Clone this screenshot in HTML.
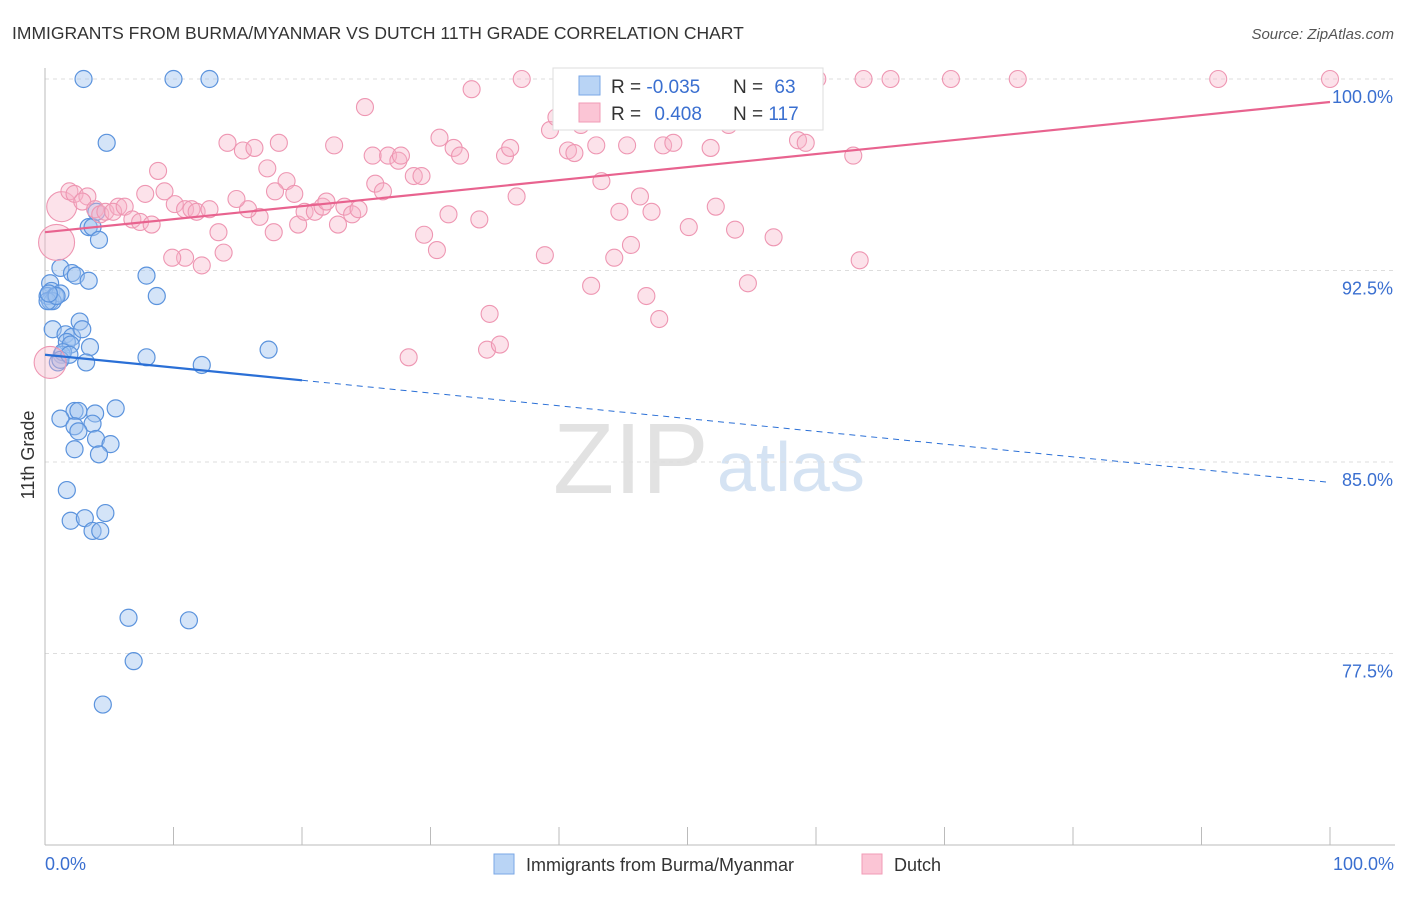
<!DOCTYPE html>
<html><head><meta charset="utf-8"><style>
body{margin:0;background:#fff;font-family:"Liberation Sans",sans-serif;}
svg text{font-family:"Liberation Sans",sans-serif;}
</style></head><body>
<svg id="chart" width="1406" height="892" viewBox="0 0 1406 892" xmlns="http://www.w3.org/2000/svg">
<text x="12" y="39" font-size="17.5" fill="#333">IMMIGRANTS FROM BURMA/MYANMAR VS DUTCH 11TH GRADE CORRELATION CHART</text>
<text x="1394" y="39" font-size="15" fill="#555" font-style="italic" text-anchor="end">Source: ZipAtlas.com</text>
<g>
<text x="553" y="493" font-size="100" fill="#e2e2e2" font-family="Liberation Serif">ZIP</text>
<text x="717" y="491" font-size="70" fill="#d5e3f3">atlas</text>
</g>
<g id="grid"></g>
<g id="axes"></g>
<g id="blue"></g>
<g id="pink"></g>
<g id="lines"></g>
<text x="34" y="455" font-size="18" fill="#333" text-anchor="middle" transform="rotate(-90 34 455)">11th Grade</text>
<text x="45" y="870" font-size="18" fill="#3a6fd0">0.0%</text>
<text x="1394" y="870" font-size="18" fill="#3a6fd0" text-anchor="end">100.0%</text>
<g>
<rect x="553" y="68" width="270" height="62" fill="#fff" stroke="#ddd"/>
<rect x="579" y="76" width="21" height="19" fill="#b9d4f5" stroke="#7aa7e6"/>
<rect x="579" y="103" width="21" height="19" fill="#fbc5d5" stroke="#f29bb6"/>
<text x="611" y="93" font-size="19" fill="#333">R = <tspan fill="#3a6fd0">-0.035</tspan></text>
<text x="733" y="93" font-size="19" fill="#333">N = <tspan fill="#3a6fd0" dx="6">63</tspan></text>
<text x="611" y="120" font-size="19" fill="#333">R = <tspan fill="#3a6fd0" dx="8">0.408</tspan></text>
<text x="733" y="120" font-size="19" fill="#333">N = <tspan fill="#3a6fd0">117</tspan></text>
</g>
<g>
<rect x="494" y="854" width="20" height="20" fill="#b9d4f5" stroke="#7aa7e6"/>
<text x="526" y="871" font-size="18" fill="#333">Immigrants from Burma/Myanmar</text>
<rect x="862" y="854" width="20" height="20" fill="#fbc5d5" stroke="#f29bb6"/>
<text x="894" y="871" font-size="18" fill="#333">Dutch</text>
</g>
</svg>
<script>
const yTicks=[100,92.5,85,77.5];
const yTickLabels=["100.0%","92.5%","85.0%","77.5%"];
const xTicks=[0,10,20,30,40,50,60,70,80,90,100];
const blueX=[3.0,10.0,12.8,4.8,3.4,3.7,4.2,1.2,2.1,2.4,3.4,7.9,8.7,0.4,0.5,0.2,0.4,0.8,1.2,0.6,0.2,0.6,1.6,2.1,2.7,2.9,1.7,3.5,2.0,1.3,1.0,3.2,7.9,12.2,17.4,5.5,2.3,2.6,3.9,1.2,2.3,3.7,2.6,3.972,5.1,2.3,4.2,1.7,2.0,3.1,4.7,3.7,4.3,6.5,11.2,6.9,4.5,0.9,0.3,1.4,1.2,4.0,1.9];
const blueY=[100,100,100,97.5,94.2,94.2,93.7,92.6,92.4,92.3,92.1,92.3,91.5,92.0,91.7,91.5,91.3,91.5,91.6,91.3,91.3,90.2,90.0,89.9,90.5,90.2,89.7,89.5,89.6,89.2,88.9,88.9,89.1,88.8,89.4,87.1,87.0,87.0,86.9,86.7,86.4,86.5,86.2,85.9,85.7,85.5,85.3,83.9,82.7,82.8,83.0,82.3,82.3,78.9,78.8,77.2,75.5,91.5,91.6,89.3,89.0,94.8,89.2];
const pinkX=[1.3,0.9,0.4,1.9,2.3,3.3,2.9,3.9,4.3,4.7,5.7,5.3,6.2,6.8,7.4,8.3,7.8,8.8,9.3,10.1,10.9,11.4,11.8,12.8,13.5,13.9,10.9,9.9,12.2,14.2,15.4,16.3,17.3,18.2,18.8,17.9,16.7,15.8,14.9,19.4,19.7,20.2,21.0,21.6,21.9,22.8,23.3,23.9,24.4,24.9,22.5,25.5,25.7,26.3,26.7,27.5,27.7,28.7,29.3,29.5,30.5,30.7,31.8,32.3,31.4,33.8,33.2,34.6,34.4,35.4,28.3,35.8,36.2,36.7,37.1,38.9,39.3,39.8,40.4,40.7,41.2,41.7,42.5,42.9,43.3,44.3,44.7,45.3,45.6,46.3,46.8,47.2,47.8,48.1,48.9,50.1,50.5,51.8,52.2,53.2,53.7,54.7,55.6,55.0,56.7,58.6,59.2,60.1,62.9,63.4,63.7,65.8,70.5,75.7,91.3,100,58.2,17.8];
const pinkY=[95.0,93.6,88.9,95.6,95.5,95.4,95.2,94.9,94.7,94.8,95.0,94.8,95.0,94.5,94.4,94.3,95.5,96.4,95.6,95.1,94.9,94.9,94.8,94.9,94.0,93.2,93.0,93.0,92.7,97.5,97.2,97.3,96.5,97.5,96.0,95.6,94.6,94.9,95.3,95.5,94.3,94.8,94.8,95.0,95.2,94.3,95.0,94.7,94.9,98.9,97.4,97.0,95.9,95.6,97.0,96.8,97.0,96.2,96.2,93.9,93.3,97.7,97.3,97.0,94.7,94.5,99.6,90.8,89.4,89.6,89.1,97.0,97.3,95.4,100,93.1,98.0,98.5,98.9,97.2,97.1,98.2,91.9,97.4,96.0,93.0,94.8,97.4,93.5,95.4,91.5,94.8,90.6,97.4,97.5,94.2,100,97.3,95.0,98.2,94.1,92.0,99.0,98.8,93.8,97.6,97.5,100,97.0,92.9,100,100,100,100,100,100,98.6,94.0];
const pinkBig=[0,1,2];
const pinkBigR=[15,18,16];
const blueTrend=[89.2,88.2];   // at 0% and 20%
const blueTrendEnd=84.2;       // at 100%
const pinkTrend=[94.0,99.1];   // at 0% and 100%

const NS="http://www.w3.org/2000/svg";
const X0=45,X1=1330,YTOP=79,PX_PER_PCT=191.5/7.5,BOTTOM=845;
const xs=v=>X0+(X1-X0)*v/100;
const ys=v=>YTOP+(100-v)*PX_PER_PCT;
function mk(tag,attrs,parent){const e=document.createElementNS(NS,tag);for(const k in attrs)e.setAttribute(k,attrs[k]);parent.appendChild(e);return e;}
const grid=document.getElementById('grid'),axes=document.getElementById('axes');
yTicks.forEach((t,i)=>{
  const l=mk('line',{x1:X0,x2:1395,y1:ys(t),y2:ys(t),stroke:'#ddd','stroke-dasharray':'4,4'},grid);
  
  
  const tx=mk('text',{x:1393,y:ys(t)+24,'font-size':18,fill:'#3a6fd0','text-anchor':'end'},axes);
  tx.textContent=yTickLabels[i];
  
  
});
const ya=mk('line',{x1:X0,x2:X0,y1:68,y2:BOTTOM,stroke:'#bbb'},axes);


const xa=mk('line',{x1:X0,x2:1395,y1:BOTTOM,y2:BOTTOM,stroke:'#bbb'},axes);


xTicks.forEach(t=>{
  const l=mk('line',{x1:xs(t),x2:xs(t),y1:BOTTOM-18,y2:BOTTOM,stroke:'#bbb'},axes);
  
  
});
const bg=document.getElementById('blue');
blueX.forEach((v,i)=>{
  const c=mk('circle',{cx:xs(v),cy:ys(blueY[i]),r:8.5,fill:'rgba(160,196,240,0.45)',stroke:'#5b93dd','stroke-width':1.2},bg);
  
  
});
const pg=document.getElementById('pink');
pinkX.forEach((v,i)=>{
  const bi=pinkBig.indexOf(i);
  const c=mk('circle',{cx:xs(v),cy:ys(pinkY[i]),r:bi>=0?pinkBigR[bi]:8.5,fill:'rgba(248,180,200,0.38)',stroke:'#ee96b2','stroke-width':1.1},pg);
  
  
});
const lg=document.getElementById('lines');
const b1=mk('line',{x1:xs(0),y1:ys(blueTrend[0]),x2:xs(20),y2:ys(blueTrend[1]),stroke:'#2a6fd6','stroke-width':2.2},lg);


const b2=mk('line',{x1:xs(20),y1:ys(blueTrend[1]),x2:xs(100),y2:ys(blueTrendEnd),stroke:'#2a6fd6','stroke-width':1,'stroke-dasharray':'6,5'},lg);


const p1=mk('line',{x1:xs(0),y1:ys(pinkTrend[0]),x2:xs(100),y2:ys(pinkTrend[1]),stroke:'#e8638f','stroke-width':2.2},lg);


</script>
</body></html>
